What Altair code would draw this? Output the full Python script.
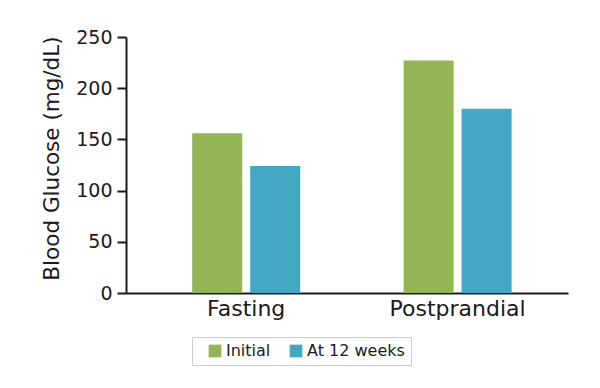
import altair as alt
import pandas as pd

categories = ["Fasting", "Postprandial"]
series = ["Initial", "At 12 weeks"]
initial_values = [156, 227]
week12_values = [124, 180]
colors = ["#94b556", "#42a8c3"]

rows = []
for i, c in enumerate(categories):
    rows.append({"category": c, "series": series[0], "value": initial_values[i]})
    rows.append({"category": c, "series": series[1], "value": week12_values[i]})
df = pd.DataFrame(rows)

FONT = "DejaVu Sans"

chart = alt.Chart(df).mark_bar().encode(
    x=alt.X("category:N", sort=categories,
            scale=alt.Scale(paddingInner=0.489, paddingOuter=0.29, align=0.54),
            axis=alt.Axis(title=None, labelAngle=0, ticks=False, labelFontSize=22,
                          labelPadding=5, domainWidth=2, domainColor="#1a1a1a",
                          labelColor="#1a1a1a", labelFont=FONT)),
    xOffset=alt.XOffset("series:N", sort=series,
                        scale=alt.Scale(paddingInner=0.138, paddingOuter=0)),
    y=alt.Y("value:Q", scale=alt.Scale(domain=[0, 250]),
            axis=alt.Axis(title="Blood Glucose (mg/dL)", values=[0, 50, 100, 150, 200, 250],
                          grid=False, tickSize=9, tickWidth=2, tickColor="#1a1a1a",
                          domainWidth=2, domainColor="#1a1a1a", labelFontSize=19,
                          labelPadding=5, labelColor="#1a1a1a", labelFont=FONT,
                          titleFont=FONT, titleFontSize=21.5, titleFontWeight="normal",
                          titleColor="#1a1a1a", titlePadding=12, titleY=121)),
    color=alt.Color("series:N", sort=series,
                    scale=alt.Scale(domain=series, range=colors),
                    legend=alt.Legend(title=None, orient="none", legendX=66, legendY=300,
                                      direction="horizontal", symbolType="square",
                                      symbolSize=160, symbolStrokeWidth=0,
                                      labelFontSize=16, labelFont=FONT, labelColor="#1a1a1a",
                                      labelOffset=3, columnPadding=8, padding=6,
                                      strokeColor="#cccccc", fillColor="white",
                                      symbolOffset=9)),
).properties(
    width=442, height=256,
    autosize=alt.AutoSizeParams(type="none"),
    padding={"left": 118, "top": 29, "right": 24, "bottom": 87},
).configure_view(stroke=None)

chart.save("out.html", embed_options={"renderer": "svg", "actions": False})
